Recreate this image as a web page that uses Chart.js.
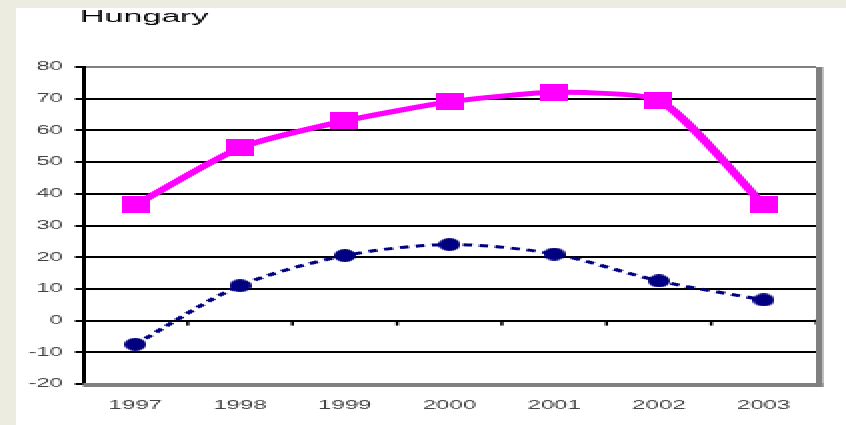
<!DOCTYPE html>
<html>
<head>
<meta charset="utf-8">
<script src="https://cdn.jsdelivr.net/npm/chart.js@4/dist/chart.umd.min.js"></script>
<style>
  html, body { margin: 0; padding: 0; }
  body { width: 846px; height: 425px; background: #ECECE0; position: relative; overflow: hidden; }
  #panel { position: absolute; left: 16px; top: 8px; right: 0; bottom: 0; background: #ffffff; }
  /* chart is drawn at half width and widened 2x, giving the broad lettering and heavy verticals */
  #wrap { position: absolute; left: 0; top: 0; width: 423px; height: 425px; transform: scaleX(2); transform-origin: 0 0; }
  #c { image-rendering: pixelated; }
</style>
</head>
<body>
<div id="panel"></div>
<div id="wrap"><canvas id="c" width="423" height="425"></canvas></div>
<script>
const years = ['1997', '1998', '1999', '2000', '2001', '2002', '2003'];
const upperSeries = [36.5, 54.5, 63, 69, 72, 69.5, 36.5];
const lowerSeries = [-7.5, 11, 20.5, 24, 21, 12.5, 6.5];
const yTicks = [-20, -10, 0, 10, 20, 30, 40, 50, 60, 70, 80];
const chartTitle = 'Hungary';

const FONT = '"Liberation Sans", Arial, sans-serif';

function rectMarker(w, h, color) {
  const c = document.createElement('canvas');
  c.width = w; c.height = h;
  const g = c.getContext('2d');
  g.fillStyle = color;
  g.fillRect(0, 0, w, h);
  return c;
}
function oval(w, h, color) {
  const c = document.createElement('canvas');
  c.width = w; c.height = h;
  const g = c.getContext('2d');
  g.fillStyle = color;
  g.beginPath();
  g.ellipse(w / 2, h / 2, w / 2, h / 2, 0, 0, Math.PI * 2);
  g.fill();
  return c;
}

const framePlugin = {
  id: 'frame',
  beforeDatasetsDraw(chart) {
    const { ctx, chartArea: a, scales: { x, y } } = chart;
    ctx.save();
    // small tick marks hanging under the zero line at category boundaries
    const y0 = y.getPixelForValue(0);
    ctx.fillStyle = '#000';
    for (let i = 1; i < years.length; i++) {
      const bx = (x.getPixelForValue(i - 1) + x.getPixelForValue(i)) / 2;
      ctx.fillRect(bx - 0.75, y0, 1.5, 5);
    }
    ctx.fillRect(a.right - 0.5, y0 - 1, 2, 5);
    // grey frame on the right and bottom of the plot area
    ctx.fillStyle = '#808080';
    ctx.fillRect(a.left, a.bottom - 1, a.right - a.left + 3.5, 4);
    ctx.fillRect(a.right, a.top, 3.5, a.bottom - a.top + 3);
    ctx.restore();
  },
  afterDraw(chart) {
    const { ctx } = chart;
    ctx.save();
    ctx.fillStyle = '#000';
    ctx.font = '17px ' + FONT;
    ctx.textBaseline = 'alphabetic';
    ctx.textAlign = 'left';
    ctx.fillText(chartTitle, 40, 22);
    ctx.restore();
  }
};

new Chart(document.getElementById('c'), {
  type: 'line',
  data: {
    labels: years,
    datasets: [
      {
        label: 'Series 1',
        data: upperSeries,
        borderColor: '#FF00FF',
        backgroundColor: '#FF00FF',
        borderWidth: 5,
        tension: 0.2,
        pointStyle: rectMarker(14, 17, '#FF00FF'),
        pointRadius: 8
      },
      {
        label: 'Series 2',
        data: lowerSeries,
        borderColor: '#000080',
        backgroundColor: '#000080',
        borderWidth: 3,
        borderDash: [4.5, 3.5],
        tension: 0.3,
        pointStyle: oval(11, 13, '#000080'),
        pointRadius: 6
      }
    ]
  },
  options: {
    responsive: false,
    animation: false,
    devicePixelRatio: 1,
    layout: { padding: { left: 0, right: 15, top: 67, bottom: 0 } },
    plugins: {
      legend: { display: false },
      title: { display: false },
      tooltip: { enabled: false }
    },
    scales: {
      x: {
        offset: true,
        grid: { display: false, drawTicks: false },
        border: { display: false },
        ticks: { color: '#444', font: { family: FONT, size: 12 }, padding: 14, maxRotation: 0 },
        afterFit(s) { s.height = 41; }
      },
      y: {
        min: -20,
        max: 80,
        afterBuildTicks(s) { s.ticks = yTicks.map(v => ({ value: v })); },
        grid: {
          color: c => (c.tick && (c.tick.value === 80 || c.tick.value === -20)) ? '#808080' : '#000000',
          lineWidth: 2,
          tickColor: '#000000',
          tickLength: 4
        },
        border: { display: true, color: '#000000', width: 2 },
        ticks: { color: '#444', font: { family: FONT, size: 12 }, padding: 6 },
        afterFit(s) { s.width = 41.5; }
      }
    }
  },
  plugins: [framePlugin]
});
</script>
</body>
</html>
